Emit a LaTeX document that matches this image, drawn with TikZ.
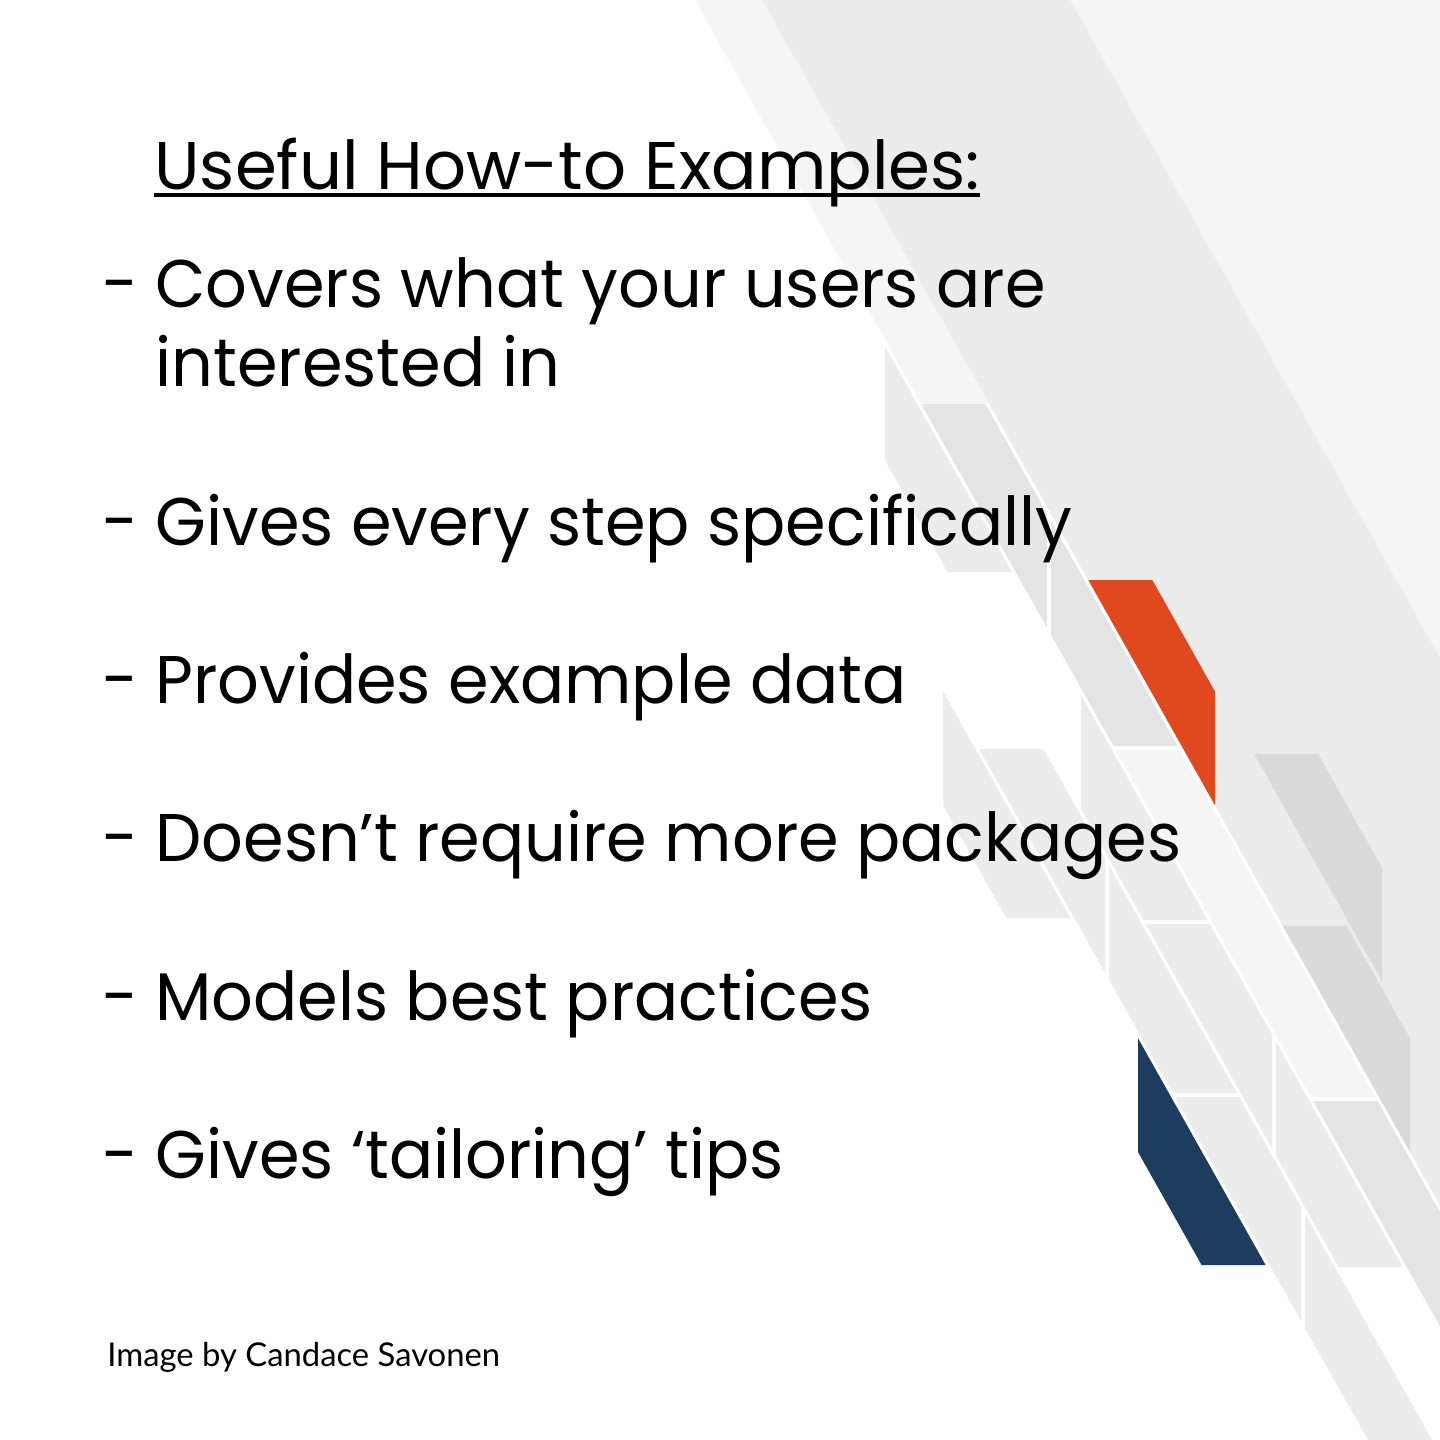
\documentclass[tikz,border=0pt]{standalone}
\usepackage{fontspec}
\usepackage{tikz}
\usetikzlibrary{positioning}

\newfontfamily\headfont{Poppins}
\newfontfamily\bodyfont[FakeStretch=0.97]{Poppins}
\newfontfamily\creditfont{Lato}

\definecolor{bandlight}{HTML}{F5F5F5}
\definecolor{bandmid}{HTML}{ECECEC}
\definecolor{blockgray}{HTML}{E4E4E4}
\definecolor{blockdark}{HTML}{DADADA}
\definecolor{accentorange}{RGB}{224,72,30}
\definecolor{accentnavy}{RGB}{28,61,94}

\begin{document}
\begin{tikzpicture}[x=0.5pt,y=-0.5pt,
  bullet/.style={anchor=base west,inner sep=0pt,font=\bodyfont\fontsize{33.7}{40}\selectfont},
  heading/.style={anchor=base west,inner sep=0pt,font=\headfont\fontsize{33.7}{40}\selectfont},
  dashmark/.style={bullet},
  credit/.style={anchor=base west,inner sep=0pt,font=\creditfont\fontsize{16.4}{20}\selectfont}]

\useasboundingbox (0,0) rectangle (1440,1440);

% Background bands
\fill[white] (0,0) rectangle (1440,1440);
\fill[bandlight] (1070,0) -- (1440,0) -- (1440,657.8) -- cycle;
\fill[bandmid] (762,0) -- (1070,0) -- (1440,657.8) -- (1440,1205.3) -- cycle;
\fill[bandlight] (695,0) -- (762,0) -- (989.3,404) -- (921.3,404) -- cycle;

% Strip 0
\fill[bandmid] (943,691.6) -- (1070.4,918) -- (1006.4,918) -- (943,805.3) -- cycle;
\fill[accentnavy] (1138,1038.2) -- (1265.6,1265) -- (1201.6,1265) -- (1138,1152) -- cycle;

% Strip 1
\fill[bandmid] (979.3,749) -- (1043.3,749) -- (1105,858.7) -- (1105,972.4) -- cycle;
\fill[bandmid] (1109,865.8) -- (1236.8,1093) -- (1172.8,1093) -- (1109,979.6) -- cycle;
\fill[bandmid] (1175.1,1097) -- (1239.1,1097) -- (1301,1207.1) -- (1301,1320.9) -- cycle;
\fill[bandmid] (1305,1214.2) -- (1432,1440) -- (1368,1440) -- (1305,1328) -- cycle;

% Strip 2
\fill[bandmid] (885,346.7) -- (1011.8,572) -- (947.8,572) -- (885,460.4) -- cycle;
\fill[bandmid] (1081,695.1) -- (1207.5,920) -- (1143.5,920) -- (1081,808.9) -- cycle;
\fill[bandmid] (1145.8,924) -- (1209.8,924) -- (1272,1034.7) -- (1272,1148.4) -- cycle;
\fill[bandmid] (1276,1041.8) -- (1402.7,1267) -- (1338.7,1267) -- (1276,1155.6) -- cycle;

% Strip 3
\fill[blockgray] (921.3,404) -- (985.3,404) -- (1047,513.8) -- (1047,627.6) -- cycle;
\fill[blockgray] (1051,520.9) -- (1177.6,746) -- (1113.6,746) -- (1051,634.7) -- cycle;
\fill[bandlight] (1115.9,750) -- (1179.9,750) -- (1375.1,1097) -- (1311.1,1097) -- cycle;
\fill[blockgray] (1313.3,1101) -- (1377.3,1101) -- (1440,1212.4) -- (1440,1326.2) -- cycle;

% Strip 4
\fill[accentorange] (1088.3,580) -- (1152.3,580) -- (1215,691.6) -- (1215,805.3) -- cycle;
\fill[blockdark] (1282.9,926) -- (1346.9,926) -- (1410,1038.2) -- (1410,1152) -- cycle;

% Strip 5
\fill[blockdark] (1254.1,754) -- (1318.1,754) -- (1382,867.6) -- (1382,981.3) -- cycle;

% Title
\node[heading] (title) at (154,189) {Useful How-to Examples:};
\draw[line width=2pt] ([yshift=-3pt]title.base west) -- ([yshift=-3pt]title.base east);

% Bullet points
\node[dashmark] (d1) at (102,307) {-};
\node[bullet] (b1) at (155,307) {Covers what your users are};
\node[bullet] (b1c) at (155,386) {interested in};
\node[dashmark] (d2) at (102,545) {-};
\node[bullet] (b2) at (155,545) {Gives every step specifically};
\node[dashmark] (d3) at (102,703) {-};
\node[bullet] (b3) at (155,703) {Provides example data};
\node[dashmark] (d4) at (102,861) {-};
\node[bullet] (b4) at (155,861) {Doesn’t require more packages};
\node[dashmark] (d5) at (102,1020) {-};
\node[bullet] (b5) at (155,1020) {Models best practices};
\node[dashmark] (d6) at (102,1178) {-};
\node[bullet] (b6) at (155,1178) {Gives ‘tailoring’ tips};

% Credit
\node[credit] (cred) at (107,1366) {Image by Candace Savonen};

\end{tikzpicture}
\end{document}
